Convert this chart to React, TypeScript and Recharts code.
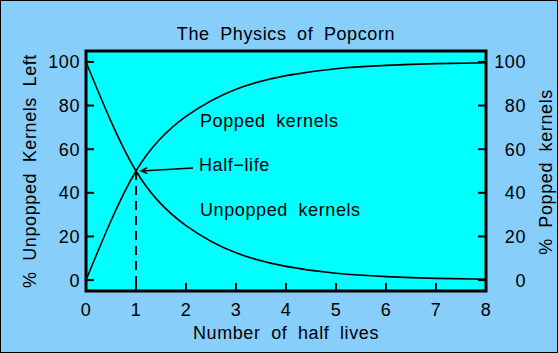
import {
  LineChart,
  Line,
  XAxis,
  YAxis,
  CartesianGrid,
  ReferenceArea,
  ReferenceLine,
  ReferenceDot,
} from "recharts";

const halfLives = [0, 1, 2, 3, 4, 5, 6, 7, 8];
const unpoppedLeft = [100, 50, 25, 12.5, 6.3, 3.1, 1.6, 0.8, 0.4];
const poppedKernels = [0, 50, 75, 87.5, 93.7, 96.9, 98.4, 99.2, 99.6];
const xTicks = [0, 1, 2, 3, 4, 5, 6, 7, 8];
const yTicks = [0, 20, 40, 60, 80, 100];

const data = halfLives.map((x, i) => ({
  x,
  unpopped: unpoppedLeft[i],
  popped: poppedKernels[i],
}));

const font = {
  fontFamily: "'Liberation Sans', Arial, sans-serif",
  fontSize: 18,
  fill: "#000",
  letterSpacing: 0.6,
  wordSpacing: 5,
};

const LeftTick = ({ x, y, payload }: any) => (
  <g>
    <line x1={x} y1={y} x2={x + 8} y2={y} stroke="#000" strokeWidth={2} />
    <text x={x - 6} y={y + 6.5} textAnchor="end" {...font}>
      {payload.value}
    </text>
  </g>
);

const RightTick = ({ x, y, payload }: any) => (
  <g>
    <line x1={x - 8} y1={y} x2={x} y2={y} stroke="#000" strokeWidth={2} />
    <text x={x + 40} y={y + 6.5} textAnchor="end" {...font}>
      {payload.value}
    </text>
  </g>
);

const BottomTick = ({ x, y, payload }: any) => (
  <g>
    <line x1={x} y1={y - 8} x2={x} y2={y} stroke="#000" strokeWidth={2} />
    <text x={x} y={y + 25} textAnchor="middle" {...font}>
      {payload.value}
    </text>
  </g>
);

const Arrow = (props: any) => {
  const { x1, y1, x2, y2 } = props;
  const a = Math.atan2(y2 - y1, x2 - x1);
  const len = 7;
  const spread = 0.45;
  return (
    <g>
      <line x1={x1} y1={y1} x2={x2} y2={y2} stroke="#000" strokeWidth={1.5} />
      <polyline
        points={`${x2 - len * Math.cos(a - spread)},${y2 - len * Math.sin(a - spread)} ${x2},${y2} ${x2 - len * Math.cos(a + spread)},${y2 - len * Math.sin(a + spread)}`}
        fill="none"
        stroke="#000"
        strokeWidth={1.5}
      />
    </g>
  );
};

const note = (text: string) => (p: any) => (
  <text x={p.cx} y={p.cy} {...font}>
    {text}
  </text>
);

export default function App() {
  return (
    <div
      style={{
        position: "absolute",
        left: 0,
        top: 0,
        width: 558,
        height: 353,
        background: "#87cefa",
        border: "1px solid #000",
        boxSizing: "border-box",
      }}
    >
      <div
        style={{
          position: "absolute",
          left: -1,
          top: 24,
          width: 572,
          textAlign: "center",
          lineHeight: "18px",
          fontFamily: font.fontFamily,
          fontSize: 18,
          letterSpacing: 0.6,
          wordSpacing: 5,
        }}
      >
        The Physics of Popcorn
      </div>
      <div style={{ position: "absolute", left: -1, top: -1 }}>
        <LineChart
          width={558}
          height={353}
          data={data}
          margin={{ top: 51, right: 0, bottom: 0, left: 0 }}
        >
          <CartesianGrid fill="#00ffff" horizontal={false} vertical={false} yAxisId="left" />
          <XAxis
            dataKey="x"
            type="number"
            domain={[0, 8]}
            ticks={xTicks}
            height={62}
            axisLine={false}
            tickLine={false}
            tickSize={0}
            tickMargin={0}
            tick={<BottomTick />}
            label={{
              content: ({ viewBox }: any) => (
                <text
                  x={viewBox.x + viewBox.width / 2}
                  y={viewBox.y + 48}
                  textAnchor="middle"
                  {...font}
                >
                  Number of half lives
                </text>
              ),
            }}
          />
          <YAxis
            yAxisId="left"
            type="number"
            domain={[-5, 105]}
            ticks={yTicks}
            width={86}
            axisLine={false}
            tickLine={false}
            tickSize={0}
            tickMargin={0}
            tick={<LeftTick />}
            label={{
              content: ({ viewBox }: any) => (
                <text
                  x={viewBox.x + 36}
                  y={viewBox.y + viewBox.height / 2}
                  textAnchor="middle"
                  transform={`rotate(-90, ${viewBox.x + 36}, ${viewBox.y + viewBox.height / 2})`}
                  {...font}
                >
                  % Unpopped Kernels Left
                </text>
              ),
            }}
          />
          <YAxis
            yAxisId="right"
            orientation="right"
            type="number"
            domain={[-5, 105]}
            ticks={yTicks}
            width={72}
            axisLine={false}
            tickLine={false}
            tickSize={0}
            tickMargin={0}
            tick={<RightTick />}
            label={{
              content: ({ viewBox }: any) => (
                <text
                  x={viewBox.x + 66}
                  y={viewBox.y + viewBox.height / 2 + 1}
                  textAnchor="middle"
                  transform={`rotate(-90, ${viewBox.x + 66}, ${viewBox.y + viewBox.height / 2 + 1})`}
                  {...font}
                >
                  % Popped kernels
                </text>
              ),
            }}
          />
          <Line
            yAxisId="left"
            type="natural"
            dataKey="unpopped"
            stroke="#000"
            strokeWidth={1.6}
            dot={false}
            isAnimationActive={false}
          />
          <Line
            yAxisId="right"
            type="natural"
            dataKey="popped"
            stroke="#000"
            strokeWidth={1.6}
            dot={false}
            isAnimationActive={false}
          />
          <ReferenceLine
            yAxisId="left"
            segment={[
              { x: 1, y: 50 },
              { x: 1, y: -5 },
            ]}
            stroke="#000"
            strokeWidth={2}
            strokeDasharray="9 6"
          />
          <ReferenceLine
            yAxisId="left"
            segment={[
              { x: 2.14, y: 51.4 },
              { x: 1.1, y: 50 },
            ]}
            shape={Arrow}
          />
          <ReferenceDot yAxisId="left" x={2.28} y={70} r={0} shape={note("Popped kernels")} />
          <ReferenceDot yAxisId="left" x={2.26} y={50} r={0} shape={note("Half\u2212life")} />
          <ReferenceDot yAxisId="left" x={2.28} y={29.5} r={0} shape={note("Unpopped kernels")} />
          <ReferenceArea
            yAxisId="left"
            x1={0}
            x2={8}
            y1={-5}
            y2={105}
            fill="none"
            stroke="#000"
            strokeWidth={3}
          />
        </LineChart>
      </div>
    </div>
  );
}
